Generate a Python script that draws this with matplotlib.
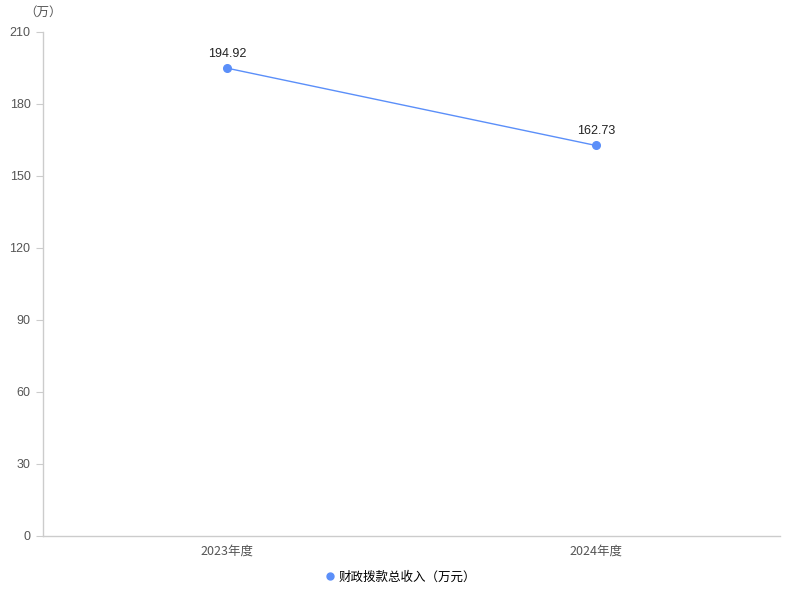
import matplotlib
matplotlib.use("Agg")
import matplotlib.pyplot as plt
from matplotlib.lines import Line2D

plt.rcParams['font.family'] = ['Noto Sans CJK SC', 'DejaVu Sans']

categories = ["2023年度", "2024年度"]
values = [194.92, 162.73]
series_name = "财政拨款总收入（万元）"
yticks = [0, 30, 60, 90, 120, 150, 180, 210]

color = "#5b8ff9"
fig = plt.figure(figsize=(8, 6), dpi=100)
ax = fig.add_axes([43/800, 64/600, 737/800, 504/600])

x = list(range(len(categories)))
ax.plot(x, values, color=color, lw=1, marker='o', ms=5.5, zorder=3)
for xi, v in zip(x, values):
    ax.annotate(f"{v:.2f}", (xi, v), xytext=(0, 6), textcoords='offset points',
                ha='center', va='bottom', fontsize=9, color='#222222', family=['Liberation Sans', 'DejaVu Sans'])

ax.set_xlim(-0.5, len(categories) - 0.5)
ax.set_ylim(0, 210)
ax.set_yticks(yticks)
ax.set_yticklabels([str(t) for t in yticks], fontsize=9, color='#555555', family=['Liberation Sans', 'DejaVu Sans'])
ax.set_xticks(x)
ax.set_xticklabels(categories, fontsize=9, color='#555555')
ax.tick_params(axis='x', length=0, pad=6)
ax.tick_params(axis='y', length=5, color='#cccccc', pad=4)
for s in ['top', 'right']:
    ax.spines[s].set_visible(False)
for s in ['left', 'bottom']:
    ax.spines[s].set_color('#cccccc')
    ax.spines[s].set_linewidth(1)

fig.text(43/800, 1 - 12/600, "（万）", ha='center', va='center', fontsize=9, color='#555555')

handle = Line2D([], [], color=color, marker='o', ls='none', ms=5)
fig.legend([handle], [series_name], loc='center', bbox_to_anchor=(0.5, 1 - 577/600),
           frameon=False, fontsize=9, handletextpad=0.2, handlelength=1)

fig.savefig("out.png", dpi=100)
